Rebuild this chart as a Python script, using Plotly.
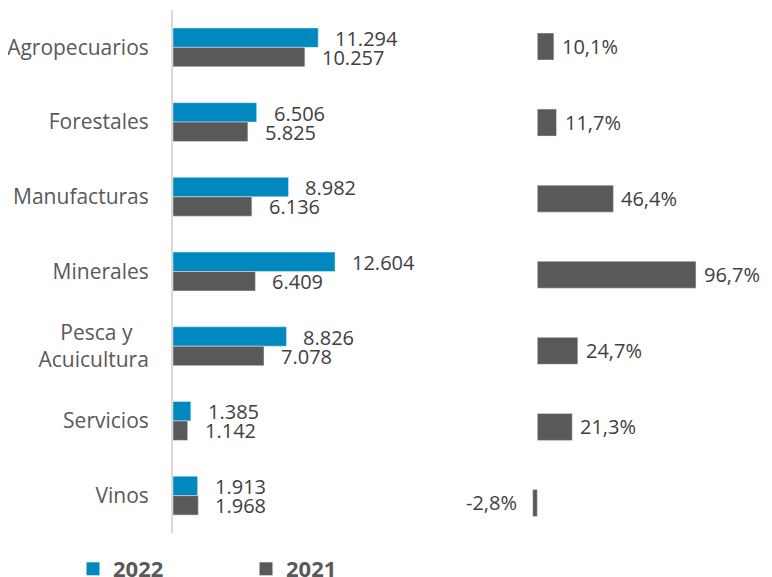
import plotly.graph_objects as go

categories = ["Agropecuarios", "Forestales", "Manufacturas", "Minerales",
              "Pesca y<br>Acuicultura", "Servicios", "Vinos"]
tick_text = ["Agropecuarios", "Forestales", "Manufacturas", "Minerales",
             "Pesca y&nbsp;&nbsp;&nbsp;<br>Acuicultura", "Servicios", "Vinos"]
values_2022 = [11294, 6506, 8982, 12604, 8826, 1385, 1913]
values_2021 = [10257, 5825, 6136, 6409, 7078, 1142, 1968]
growth_pct = [10.1, 11.7, 46.4, 96.7, 24.7, 21.3, -2.8]

BLUE = "#0089BF"
GRAY = "#595959"
TEXT = "#404040"
FONT = "Open Sans"

W, H = 772, 577
OFF = 8  # page body margin


def px_x(x):
    return (x - OFF) / W


def px_y(y):
    return 1 - (y - OFF) / H


def miles(v):
    return f"{v:,}".replace(",", ".")


def pct(v):
    return f"{v:.1f}".replace(".", ",") + "%"


fig = go.Figure()
fig.add_trace(go.Bar(y=categories, x=values_2022, name="2022", orientation="h",
                     marker_color=BLUE, showlegend=False, xaxis="x", yaxis="y"))
fig.add_trace(go.Bar(y=categories, x=values_2021, name="2021", orientation="h",
                     marker_color=GRAY, showlegend=False, xaxis="x", yaxis="y"))
fig.add_trace(go.Bar(y=categories, x=growth_pct, orientation="h", showlegend=False,
                     marker_color=GRAY, width=0.355, offset=-0.1775,
                     xaxis="x2", yaxis="y2"))

# legend entries with square swatches
for name, color in [("2022", BLUE), ("2021", GRAY)]:
    fig.add_trace(go.Scatter(x=[None], y=[None], mode="markers", name=f"<b>{name}</b>",
                             marker=dict(symbol="square", size=13, color=color),
                             xaxis="x", yaxis="y"))

annotations = []
for cat, v22, v21, g in zip(categories, values_2022, values_2021, growth_pct):
    annotations.append(dict(x=v22, y=cat, xref="x", yref="y", text=miles(v22),
                            xanchor="left", yanchor="middle", xshift=15, yshift=9,
                            showarrow=False))
    annotations.append(dict(x=v21, y=cat, xref="x", yref="y", text=miles(v21),
                            xanchor="left", yanchor="middle", xshift=15, yshift=-10,
                            showarrow=False))
    annotations.append(dict(x=g, y=cat, xref="x2", yref="y2", text=pct(g),
                            xanchor="left" if g >= 0 else "right",
                            yanchor="middle", xshift=6 if g >= 0 else -14,
                            showarrow=False))

fig.update_layout(
    width=W, height=H,
    margin=dict(l=0, r=0, t=0, b=0, autoexpand=False),
    paper_bgcolor="white", plot_bgcolor="white",
    font=dict(family=FONT, size=20, color=TEXT),
    barmode="group", bargap=0.48,
    xaxis=dict(domain=[px_x(173), px_x(353)], range=[0, 14000], visible=False),
    yaxis=dict(domain=[px_y(533), px_y(10)], anchor="x",
               categoryorder="array", categoryarray=categories,
               tickvals=categories, ticktext=tick_text,
               autorange="reversed", showline=True, linecolor="#D9D9D9",
               linewidth=2, showgrid=False, zeroline=False, ticks="",
               ticklabelstandoff=18, tickfont=dict(color=GRAY, size=21)),
    xaxis2=dict(domain=[px_x(537.3 - 16.4), px_x(537.3 + 196.9)], range=[-10, 120],
                visible=False),
    yaxis2=dict(domain=[px_y(541), px_y(8.5)], anchor="x2",
                categoryorder="array", categoryarray=categories,
                autorange="reversed", visible=False),
    annotations=annotations,
    legend=dict(orientation="h", x=px_x(73), xanchor="left", y=px_y(569),
                yanchor="middle", font=dict(size=22, color=GRAY, family=FONT),
                entrywidth=128, itemclick=False, itemdoubleclick=False),
    showlegend=True,
)
fig.update_traces(cliponaxis=False, selector=dict(type="bar"))

fig.write_html("out.html")
